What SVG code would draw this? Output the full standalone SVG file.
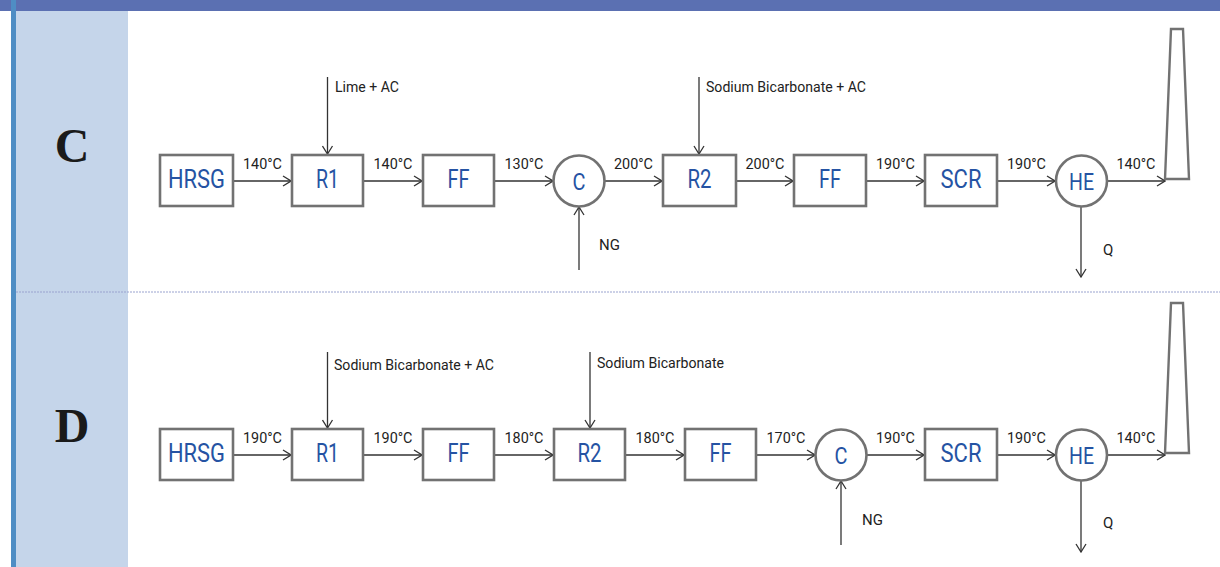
<svg xmlns="http://www.w3.org/2000/svg" width="1220" height="567" viewBox="0 0 1220 567">
<style>
.bg{fill:#ffffff}
.hdr{fill:#5b70b2}
.edge{fill:#4f8dc4}
.col{fill:#c5d5ea}
.sep{stroke:#9aa3cf;stroke-width:1;stroke-dasharray:2,1}
.box{fill:#ffffff;stroke:#727272;stroke-width:2.6}
.chim{fill:#ffffff;stroke:#727272;stroke-width:2.4}
.lbl{font-family:Roboto,"Liberation Sans",sans-serif;font-size:25px;fill:#2553a3;text-anchor:middle}
.clbl{font-family:Roboto,"Liberation Sans",sans-serif;font-size:24px;fill:#2553a3;text-anchor:middle}
.t{font-family:Roboto,"Liberation Sans",sans-serif;font-size:15px;fill:#222222}
.tm{font-family:Roboto,"Liberation Sans",sans-serif;font-size:15px;fill:#222222;text-anchor:middle}
.row{font-family:"Liberation Serif",serif;font-weight:bold;font-size:48px;fill:#1a1a1a;text-anchor:middle}
.ln{stroke:#333333;stroke-width:1.3;fill:none;marker-end:url(#arr)}
</style>
<defs>
<marker id="arr" markerUnits="userSpaceOnUse" markerWidth="10" markerHeight="12" viewBox="0 0 10 12" refX="9" refY="6" orient="auto">
<path d="M1,1 L9,6 L1,11" fill="none" stroke="#333333" stroke-width="1.3"/>
</marker>
</defs>
<rect class="bg" x="0" y="0" width="1220" height="567"/>
<rect class="hdr" x="0" y="0" width="1220" height="11"/>
<rect class="edge" x="11" y="0" width="5" height="567"/>
<rect class="col" x="16" y="11" width="112" height="556"/>
<line class="sep" x1="16" y1="292" x2="1220" y2="292"/>
<text class="row" x="72" y="162">C</text>
<text class="row" x="72" y="442">D</text>

<g id="connectors">
<line class="ln" x1="234" y1="181" x2="291" y2="181"/>
<line class="ln" x1="364" y1="181" x2="422" y2="181"/>
<line class="ln" x1="495" y1="181" x2="553" y2="181"/>
<line class="ln" x1="605" y1="181" x2="662" y2="181"/>
<line class="ln" x1="737" y1="181" x2="793" y2="181"/>
<line class="ln" x1="867" y1="181" x2="924" y2="181"/>
<line class="ln" x1="998" y1="181" x2="1055" y2="181"/>
<line class="ln" x1="1107" y1="181" x2="1165" y2="181"/>
<line class="ln" x1="327.5" y1="77" x2="327.5" y2="154"/>
<line class="ln" x1="699" y1="77" x2="699" y2="154"/>
<line class="ln" x1="579" y1="270" x2="579" y2="207"/>
<line class="ln" x1="1081" y1="207" x2="1081" y2="277"/>

<line class="ln" x1="234" y1="455" x2="291" y2="455"/>
<line class="ln" x1="364" y1="455" x2="422" y2="455"/>
<line class="ln" x1="495" y1="455" x2="553" y2="455"/>
<line class="ln" x1="626" y1="455" x2="684" y2="455"/>
<line class="ln" x1="757" y1="455" x2="815" y2="455"/>
<line class="ln" x1="867" y1="455" x2="924" y2="455"/>
<line class="ln" x1="998" y1="455" x2="1055" y2="455"/>
<line class="ln" x1="1107" y1="455" x2="1165" y2="455"/>
<line class="ln" x1="327.5" y1="352" x2="327.5" y2="428"/>
<line class="ln" x1="590" y1="352" x2="590" y2="428"/>
<line class="ln" x1="841" y1="545" x2="841" y2="481"/>
<line class="ln" x1="1081" y1="481" x2="1081" y2="552"/>

<text class="tm" x="262.5" y="169" textLength="39" lengthAdjust="spacingAndGlyphs">140°C</text>
<text class="tm" x="393" y="169" textLength="39" lengthAdjust="spacingAndGlyphs">140°C</text>
<text class="tm" x="524" y="169" textLength="39" lengthAdjust="spacingAndGlyphs">130°C</text>
<text class="tm" x="633.5" y="169" textLength="39" lengthAdjust="spacingAndGlyphs">200°C</text>
<text class="tm" x="765" y="169" textLength="39" lengthAdjust="spacingAndGlyphs">200°C</text>
<text class="tm" x="895.5" y="169" textLength="39" lengthAdjust="spacingAndGlyphs">190°C</text>
<text class="tm" x="1026.5" y="169" textLength="39" lengthAdjust="spacingAndGlyphs">190°C</text>
<text class="tm" x="1136" y="169" textLength="39" lengthAdjust="spacingAndGlyphs">140°C</text>
<text class="t" x="335" y="92" textLength="64" lengthAdjust="spacingAndGlyphs">Lime + AC</text>
<text class="t" x="706" y="92" textLength="160" lengthAdjust="spacingAndGlyphs">Sodium Bicarbonate + AC</text>
<text class="t" x="599" y="250">NG</text>
<text class="t" x="1103" y="255">Q</text>

<text class="tm" x="262.5" y="443" textLength="39" lengthAdjust="spacingAndGlyphs">190°C</text>
<text class="tm" x="393" y="443" textLength="39" lengthAdjust="spacingAndGlyphs">190°C</text>
<text class="tm" x="524" y="443" textLength="39" lengthAdjust="spacingAndGlyphs">180°C</text>
<text class="tm" x="655" y="443" textLength="39" lengthAdjust="spacingAndGlyphs">180°C</text>
<text class="tm" x="786" y="443" textLength="39" lengthAdjust="spacingAndGlyphs">170°C</text>
<text class="tm" x="895.5" y="443" textLength="39" lengthAdjust="spacingAndGlyphs">190°C</text>
<text class="tm" x="1026.5" y="443" textLength="39" lengthAdjust="spacingAndGlyphs">190°C</text>
<text class="tm" x="1136" y="443" textLength="39" lengthAdjust="spacingAndGlyphs">140°C</text>
<text class="t" x="334" y="370" textLength="160" lengthAdjust="spacingAndGlyphs">Sodium Bicarbonate + AC</text>
<text class="t" x="597" y="368" textLength="127" lengthAdjust="spacingAndGlyphs">Sodium Bicarbonate</text>
<text class="t" x="862" y="525">NG</text>
<text class="t" x="1103" y="528">Q</text>
</g>

<g id="c-hrsg"><rect class="box" x="160" y="155" width="73" height="51"/><text class="lbl" x="196.5" y="188" textLength="57" lengthAdjust="spacingAndGlyphs">HRSG</text></g>
<g id="c-r1"><rect class="box" x="292" y="155" width="71" height="51"/><text class="lbl" x="327.5" y="188" textLength="23" lengthAdjust="spacingAndGlyphs">R1</text></g>
<g id="c-ff1"><rect class="box" x="423" y="155" width="71" height="51"/><text class="lbl" x="458.5" y="188" textLength="22" lengthAdjust="spacingAndGlyphs">FF</text></g>
<g id="c-c"><circle class="box" cx="579" cy="181" r="25.5"/><text class="clbl" x="579" y="190" textLength="13" lengthAdjust="spacingAndGlyphs">C</text></g>
<g id="c-r2"><rect class="box" x="663" y="155" width="73" height="51"/><text class="lbl" x="699.5" y="188" textLength="24" lengthAdjust="spacingAndGlyphs">R2</text></g>
<g id="c-ff2"><rect class="box" x="794" y="155" width="72" height="51"/><text class="lbl" x="830" y="188" textLength="22" lengthAdjust="spacingAndGlyphs">FF</text></g>
<g id="c-scr"><rect class="box" x="925" y="155" width="72" height="51"/><text class="lbl" x="961" y="188" textLength="41" lengthAdjust="spacingAndGlyphs">SCR</text></g>
<g id="c-he"><circle class="box" cx="1081.5" cy="181" r="25.5"/><text class="clbl" x="1081.5" y="190" textLength="25" lengthAdjust="spacingAndGlyphs">HE</text></g>
<g id="c-stack"><polygon class="chim" points="1171,29 1183,29 1189,179 1165,179"/></g>

<g id="d-hrsg"><rect class="box" x="160" y="429" width="73" height="51"/><text class="lbl" x="196.5" y="462" textLength="57" lengthAdjust="spacingAndGlyphs">HRSG</text></g>
<g id="d-r1"><rect class="box" x="292" y="429" width="71" height="51"/><text class="lbl" x="327.5" y="462" textLength="23" lengthAdjust="spacingAndGlyphs">R1</text></g>
<g id="d-ff1"><rect class="box" x="423" y="429" width="71" height="51"/><text class="lbl" x="458.5" y="462" textLength="22" lengthAdjust="spacingAndGlyphs">FF</text></g>
<g id="d-r2"><rect class="box" x="554" y="429" width="71" height="51"/><text class="lbl" x="589.5" y="462" textLength="24" lengthAdjust="spacingAndGlyphs">R2</text></g>
<g id="d-ff2"><rect class="box" x="685" y="429" width="71" height="51"/><text class="lbl" x="720.5" y="462" textLength="22" lengthAdjust="spacingAndGlyphs">FF</text></g>
<g id="d-c"><circle class="box" cx="841" cy="455" r="25.5"/><text class="clbl" x="841" y="464" textLength="13" lengthAdjust="spacingAndGlyphs">C</text></g>
<g id="d-scr"><rect class="box" x="925" y="429" width="72" height="51"/><text class="lbl" x="961" y="462" textLength="41" lengthAdjust="spacingAndGlyphs">SCR</text></g>
<g id="d-he"><circle class="box" cx="1081.5" cy="455" r="25.5"/><text class="clbl" x="1081.5" y="464" textLength="25" lengthAdjust="spacingAndGlyphs">HE</text></g>
<g id="d-stack"><polygon class="chim" points="1171,303 1183,303 1189,453 1165,453"/></g>
</svg>
